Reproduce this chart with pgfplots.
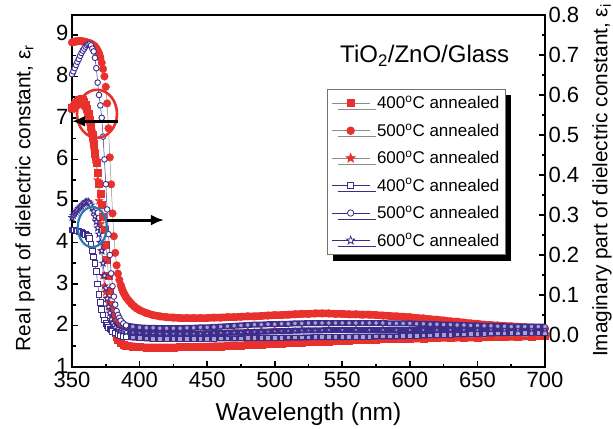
\documentclass[border=0pt]{standalone}
\usepackage{pgfplots}
\pgfplotsset{compat=1.18}
\usepackage{pgfplotstable}
\usepackage{fontspec}
\setmainfont{Liberation Sans}
\usetikzlibrary{arrows.meta,shadows,plotmarks}
\definecolor{cred}{RGB}{232,48,44}
\definecolor{cblue}{RGB}{60,44,140}
\definecolor{cell}{RGB}{40,120,180}
\definecolor{cgray}{RGB}{140,140,140}

\pgfdeclareplotmark{pstar}{%
  \pgfpathmoveto{\pgfpointpolar{90}{1.2\pgfplotmarksize}}%
  \pgfpathlineto{\pgfpointpolar{126}{0.5\pgfplotmarksize}}%
  \pgfpathlineto{\pgfpointpolar{162}{1.2\pgfplotmarksize}}%
  \pgfpathlineto{\pgfpointpolar{198}{0.5\pgfplotmarksize}}%
  \pgfpathlineto{\pgfpointpolar{234}{1.2\pgfplotmarksize}}%
  \pgfpathlineto{\pgfpointpolar{270}{0.5\pgfplotmarksize}}%
  \pgfpathlineto{\pgfpointpolar{306}{1.2\pgfplotmarksize}}%
  \pgfpathlineto{\pgfpointpolar{342}{0.5\pgfplotmarksize}}%
  \pgfpathlineto{\pgfpointpolar{18}{1.2\pgfplotmarksize}}%
  \pgfpathlineto{\pgfpointpolar{54}{0.5\pgfplotmarksize}}%
  \pgfpathclose
  \pgfusepathqfillstroke
}

% Real part (left axis) -- 500 C (circles)
\pgfplotstableread[row sep=\\]{x y\\
350 8.82\\351 8.83\\352 8.84\\353 8.84\\354 8.85\\355 8.85\\356 8.85\\357 8.85\\358 8.84\\359 8.84\\
360 8.83\\361 8.82\\362 8.81\\363 8.80\\364 8.79\\365 8.77\\366 8.75\\367 8.72\\368 8.68\\369 8.62\\
370 8.55\\371 8.45\\372 8.33\\373 8.18\\374 8.00\\375 7.75\\376 7.35\\377 6.75\\378 6.05\\379 5.40\\
380 4.70\\381 4.15\\382 3.75\\383 3.45\\384 3.25\\385 3.10\\386 2.98\\387 2.88\\388 2.80\\389 2.74\\
390 2.68\\392 2.60\\394 2.52\\396 2.46\\398 2.41\\400 2.37\\405 2.30\\410 2.25\\415 2.22\\420 2.20\\
425 2.19\\430 2.18\\435 2.18\\440 2.18\\445 2.18\\450 2.18\\455 2.19\\460 2.19\\465 2.20\\470 2.20\\
475 2.21\\480 2.22\\485 2.22\\490 2.23\\495 2.24\\500 2.25\\505 2.25\\510 2.26\\515 2.27\\520 2.28\\
525 2.28\\530 2.29\\535 2.29\\540 2.29\\545 2.28\\550 2.28\\555 2.27\\560 2.27\\565 2.26\\570 2.26\\
575 2.25\\580 2.24\\585 2.23\\590 2.22\\595 2.21\\600 2.20\\605 2.18\\610 2.17\\615 2.15\\620 2.14\\
625 2.12\\630 2.10\\635 2.09\\640 2.07\\645 2.05\\650 2.04\\655 2.02\\660 2.01\\665 2.00\\670 1.99\\
675 1.98\\680 1.97\\685 1.96\\690 1.95\\695 1.94\\700 1.93\\
}\redC

% Real part -- 400 C (squares)
\pgfplotstableread[row sep=\\]{x y\\
350 7.25\\351 7.28\\352 7.32\\353 7.36\\354 7.40\\355 7.43\\356 7.45\\357 7.46\\358 7.45\\359 7.40\\
360 7.32\\361 7.22\\362 7.10\\363 6.95\\364 6.78\\365 6.60\\366 6.38\\367 6.15\\368 5.92\\369 5.68\\
370 5.42\\371 5.17\\372 4.92\\373 4.62\\374 4.30\\375 3.95\\376 3.58\\377 3.20\\378 2.85\\379 2.50\\
380 2.20\\381 1.98\\382 1.82\\383 1.72\\384 1.65\\386 1.58\\388 1.54\\390 1.52\\395 1.50\\400 1.48\\
405 1.47\\410 1.47\\415 1.47\\420 1.47\\425 1.47\\430 1.48\\435 1.48\\440 1.48\\445 1.49\\450 1.49\\
455 1.50\\460 1.50\\465 1.51\\470 1.52\\475 1.52\\480 1.53\\485 1.54\\490 1.54\\495 1.55\\500 1.56\\
505 1.57\\510 1.58\\515 1.59\\520 1.59\\525 1.60\\530 1.61\\535 1.62\\540 1.62\\545 1.63\\550 1.63\\
555 1.64\\560 1.65\\565 1.65\\570 1.66\\575 1.66\\580 1.67\\585 1.67\\590 1.68\\595 1.68\\600 1.68\\
610 1.69\\620 1.70\\630 1.70\\640 1.71\\650 1.71\\660 1.72\\670 1.72\\680 1.73\\690 1.74\\700 1.75\\
}\redS

% Real part -- 600 C (stars)
\pgfplotstableread[row sep=\\]{x y\\
350 7.20\\351 7.23\\352 7.26\\353 7.29\\354 7.31\\355 7.33\\356 7.34\\357 7.35\\358 7.34\\359 7.30\\
360 7.25\\361 7.18\\362 7.08\\363 6.95\\364 6.80\\365 6.62\\366 6.42\\367 6.20\\368 5.90\\369 5.50\\
370 5.00\\371 4.45\\372 3.80\\373 3.20\\374 2.95\\375 2.80\\376 2.66\\377 2.55\\378 2.45\\379 2.35\\
380 2.25\\382 2.12\\384 2.03\\386 1.97\\388 1.93\\390 1.90\\395 1.87\\400 1.85\\410 1.84\\420 1.83\\
430 1.83\\440 1.83\\450 1.84\\460 1.85\\470 1.86\\480 1.87\\490 1.88\\500 1.89\\520 1.90\\540 1.90\\
560 1.90\\580 1.90\\600 1.89\\620 1.89\\640 1.88\\660 1.88\\680 1.88\\700 1.88\\
}\redT

% Imaginary part (right axis) -- 500 C (circles)
\pgfplotstableread[row sep=\\]{x y\\
350 0.652\\351 0.659\\352 0.667\\353 0.675\\354 0.683\\355 0.690\\356 0.698\\357 0.705\\358 0.711\\359 0.716\\
360 0.721\\361 0.725\\362 0.727\\363 0.727\\364 0.724\\365 0.716\\366 0.709\\367 0.693\\368 0.667\\369 0.631\\
370 0.600\\371 0.574\\372 0.543\\373 0.496\\374 0.439\\375 0.377\\376 0.314\\377 0.252\\378 0.200\\379 0.154\\
380 0.122\\381 0.096\\382 0.076\\383 0.060\\384 0.050\\385 0.043\\386 0.036\\388 0.029\\390 0.024\\395 0.021\\
400 0.019\\405 0.018\\410 0.018\\415 0.017\\420 0.017\\425 0.017\\430 0.017\\435 0.018\\440 0.018\\445 0.019\\
450 0.019\\455 0.020\\460 0.021\\465 0.022\\470 0.023\\475 0.024\\480 0.025\\485 0.026\\490 0.026\\495 0.027\\
500 0.027\\505 0.028\\510 0.028\\515 0.029\\520 0.029\\525 0.030\\530 0.030\\535 0.030\\540 0.030\\545 0.030\\
550 0.030\\555 0.030\\560 0.030\\565 0.030\\570 0.030\\575 0.030\\580 0.030\\585 0.029\\590 0.029\\595 0.029\\
600 0.029\\605 0.028\\610 0.028\\615 0.027\\620 0.027\\625 0.026\\630 0.026\\635 0.025\\640 0.025\\645 0.024\\
650 0.024\\655 0.023\\660 0.023\\665 0.022\\670 0.022\\675 0.021\\680 0.021\\685 0.021\\690 0.021\\695 0.021\\
700 0.021\\
}\bluC

% Imaginary part -- 400 C (squares)
\pgfplotstableread[row sep=\\]{x y\\
350 0.2625\\351 0.2625\\352 0.2625\\353 0.2615\\354 0.2604\\355 0.2593\\356 0.2573\\357 0.2562\\358 0.2541\\359 0.2531\\
360 0.2521\\361 0.2500\\362 0.2469\\363 0.2417\\364 0.2261\\365 0.2106\\366 0.1950\\367 0.1794\\368 0.1587\\369 0.1275\\
370 0.1016\\371 0.0808\\372 0.0632\\373 0.0497\\374 0.0373\\375 0.0290\\376 0.0238\\377 0.0196\\378 0.0155\\379 0.0124\\
380 0.0082\\382 0.0051\\384 0.0020\\386 -0.0011\\388 -0.0032\\390 -0.0042\\395 -0.0063\\400 -0.0074\\405 -0.0084\\410 -0.0094\\
415 -0.0094\\420 -0.0094\\425 -0.0094\\430 -0.0094\\435 -0.0094\\440 -0.0094\\445 -0.0094\\450 -0.0094\\455 -0.0089\\460 -0.0084\\
465 -0.0084\\470 -0.0084\\475 -0.0079\\480 -0.0074\\485 -0.0074\\490 -0.0074\\495 -0.0074\\500 -0.0074\\505 -0.0068\\510 -0.0063\\
515 -0.0063\\520 -0.0063\\525 -0.0058\\530 -0.0053\\535 -0.0053\\540 -0.0053\\545 -0.0053\\550 -0.0053\\555 -0.0047\\560 -0.0042\\
565 -0.0042\\570 -0.0042\\575 -0.0037\\580 -0.0032\\585 -0.0032\\590 -0.0032\\595 -0.0027\\600 -0.0022\\605 -0.0016\\610 -0.0011\\
615 -0.0006\\620 -0.0001\\625 0.0004\\630 0.0009\\635 0.0015\\640 0.0020\\645 0.0025\\650 0.0030\\655 0.0035\\660 0.0041\\
665 0.0046\\670 0.0051\\675 0.0051\\680 0.0051\\685 0.0056\\690 0.0061\\695 0.0061\\700 0.0061\\
}\bluS

% Imaginary part -- 600 C (stars)
\pgfplotstableread[row sep=\\]{x y\\
350 0.2936\\351 0.2988\\352 0.3040\\353 0.3081\\354 0.3123\\355 0.3164\\356 0.3195\\357 0.3226\\358 0.3268\\359 0.3299\\
360 0.3320\\361 0.3330\\362 0.3330\\363 0.3299\\364 0.3247\\365 0.3175\\366 0.3091\\367 0.2967\\368 0.2832\\369 0.2676\\
370 0.2521\\371 0.2313\\372 0.2106\\373 0.1794\\374 0.1483\\375 0.1172\\376 0.0912\\377 0.0705\\378 0.0549\\379 0.0393\\
380 0.0290\\381 0.0238\\382 0.0186\\384 0.0144\\386 0.0113\\388 0.0092\\390 0.0072\\395 0.0061\\400 0.0051\\405 0.0046\\
410 0.0041\\415 0.0035\\420 0.0030\\425 0.0030\\430 0.0030\\435 0.0030\\440 0.0030\\445 0.0035\\450 0.0041\\455 0.0046\\
460 0.0051\\465 0.0056\\470 0.0061\\475 0.0066\\480 0.0072\\485 0.0077\\490 0.0082\\495 0.0087\\500 0.0092\\505 0.0098\\
510 0.0103\\515 0.0108\\520 0.0113\\525 0.0113\\530 0.0113\\535 0.0118\\540 0.0124\\550 0.0124\\560 0.0124\\570 0.0124\\
580 0.0124\\590 0.0124\\600 0.0124\\610 0.0124\\620 0.0124\\630 0.0124\\640 0.0124\\650 0.0124\\660 0.0134\\670 0.0134\\
680 0.0134\\690 0.0134\\700 0.0134\\
}\bluT

\pgfplotsset{
  common/.style={
    at={(0,0)}, anchor=south west,
    scale only axis, width=473bp, height=352bp,
    xmin=350, xmax=700,
    tick align=inside,
    major tick length=6bp, minor tick length=3.5bp,
    every tick/.style={black, line width=1.6bp},
    axis line style={line width=2.2bp, line cap=rect},
    tick label style={font=\fontsize{22bp}{24bp}\selectfont},
    /pgf/number format/assume math mode=true,
    ylabel style={font=\fontsize{20.8bp}{24bp}\selectfont},
    xlabel style={font=\fontsize{24.5bp}{27bp}\selectfont},
  },
  bluehi/.style={forget plot, cblue, line width=0.5bp, mark size=2.8bp, restrict x to domain=350:392,
     mark options={draw=cblue, fill=white, line width=0.9bp}},
  bluelo/.style={forget plot, draw=none, mark size=2.3bp, restrict x to domain=392:700,
     mark options={draw=cblue, fill=cblue!45!white, line width=0.7bp}},
}

\begin{document}
\begin{tikzpicture}
\path[use as bounding box] (-72bp,-62bp) rectangle (541bp,367bp);

\begin{axis}[common,
  ymin=1, ymax=9.48,
  axis x line*=bottom, axis y line*=left,
  xtick={350,400,...,700}, ytick={1,2,...,9},
  minor x tick num=1, minor y tick num=1,
  xticklabel style={yshift=-1.5bp},
  yticklabel style={yshift=1.5bp},
  xlabel={Wavelength (nm)},
  ylabel={Real part of dielectric constant, ε\textsubscript{r}},
  xlabel style={at={(axis description cs:0.5,0)}, anchor=base, yshift=-53bp},
  ylabel style={at={(axis description cs:-0.0994,0.48)}, anchor=center},
]
% thick bands
\addplot[cred, line width=7.5bp, line cap=round, line join=round, restrict x to domain=350:366] table {\redT};
\addplot[cred, line width=7.5bp, line cap=round, line join=round, restrict x to domain=350:368] table {\redS};
\addplot[cred, line width=7.5bp, line cap=round, line join=round, restrict x to domain=383:700] table {\redS};
\addplot[cred, line width=7.5bp, line cap=round, line join=round, restrict x to domain=350:371] table {\redC};
\addplot[cred, line width=7.5bp, line cap=round, line join=round, restrict x to domain=386:700] table {\redC};
% markers
\addplot[cgray, line width=0.5bp, mark=pstar, mark size=3.5bp, mark options={draw=cred, fill=cred, line width=0.4bp}] table {\redT};
\addplot[cgray, line width=0.5bp, mark=square*, mark size=3.5bp, mark options={draw=cred, fill=cred, line width=0.4bp}] table {\redS};
\addplot[cgray, line width=0.5bp, mark=*, mark size=3.8bp, mark options={draw=cred, fill=cred, line width=0.4bp}] table {\redC};

\node[anchor=base, font=\fontsize{24bp}{26bp}\selectfont] at (axis cs:611,8.33) {TiO\textsubscript{2}/ZnO/Glass};

\coordinate (rc) at (axis cs:368.5,7.1);
\coordinate (ra1) at (axis cs:384,6.92);
\coordinate (ra2) at (axis cs:350,6.92);
\coordinate (bcc) at (axis cs:365,4.37);
\coordinate (ba1) at (axis cs:376,4.54);
\coordinate (ba2) at (axis cs:418,4.54);
\end{axis}

\begin{axis}[common,
  ymin=-0.08, ymax=0.8,
  axis x line*=top, axis y line*=right,
  xtick=\empty,
  ytick={0,0.1,0.2,0.3,0.4,0.5,0.6,0.7,0.8},
  minor y tick num=1,
  yticklabel style={/pgf/number format/.cd, fixed, fixed zerofill, precision=1},
  ylabel={Imaginary part of dielectric constant, ε\textsubscript{i}},
  ylabel style={at={(axis description cs:1.1205,0.53)}, anchor=center},
  legend style={at={(0.539,0.79)}, anchor=north west,
    font=\fontsize{17bp}{19bp}\selectfont, draw=black!55, line width=0.6bp, fill=white,
    row sep=9.3bp, inner xsep=4bp, inner ysep=5bp,
    /tikz/every odd column/.append style={column sep=5bp},
    drop shadow={shadow xshift=6bp, shadow yshift=-6bp, fill=black, opacity=1}},
  legend cell align=left,
  legend image code/.code={\draw[mark repeat=2,mark phase=2] plot coordinates {(0bp,0bp) (19bp,0bp) (38bp,0bp)};},
]
\addlegendimage{cgray, line width=0.8bp, mark=square*, mark size=3.5bp, mark options={draw=cred, fill=cred}}
\addlegendentry{400\textsuperscript{o}C annealed}
\addlegendimage{cgray, line width=0.8bp, mark=*, mark size=3.8bp, mark options={draw=cred, fill=cred}}
\addlegendentry{500\textsuperscript{o}C annealed}
\addlegendimage{cgray, line width=0.8bp, mark=pstar, mark size=3.8bp, mark options={draw=cred, fill=cred}}
\addlegendentry{600\textsuperscript{o}C annealed}
\addlegendimage{cblue, line width=0.8bp, mark=square*, mark size=3bp, mark options={draw=cblue, fill=white}}
\addlegendentry{400\textsuperscript{o}C annealed}
\addlegendimage{cblue, line width=0.8bp, mark=*, mark size=3.2bp, mark options={draw=cblue, fill=white}}
\addlegendentry{500\textsuperscript{o}C annealed}
\addlegendimage{cblue, line width=0.8bp, mark=pstar, mark size=3.5bp, mark options={draw=cblue, fill=white}}
\addlegendentry{600\textsuperscript{o}C annealed}

% thick bands
\addplot[forget plot, cblue, line width=6bp, line cap=round, line join=round, restrict x to domain=376:700] table {\bluS};
\addplot[forget plot, cblue, line width=6bp, line cap=round, line join=round, restrict x to domain=380:700] table {\bluT};
\addplot[forget plot, cblue, line width=6bp, line cap=round, line join=round, restrict x to domain=386:700] table {\bluC};
% markers
\addplot[bluehi, mark=square*] table {\bluS};
\addplot[bluehi, mark=pstar] table {\bluT};
\addplot[bluehi, mark=*] table {\bluC};
\addplot[bluelo, mark=square*] table {\bluS};
\addplot[bluelo, mark=pstar] table {\bluT};
\addplot[bluelo, mark=*] table {\bluC};
\end{axis}

\draw[cred, line width=2.6bp] (rc) ellipse [x radius=20bp, y radius=24bp];
\draw[black, line width=3bp, -{Latex[length=13bp,width=11bp]}] (ra1) -- (ra2);
\draw[cell, line width=2.2bp] (bcc) ellipse [x radius=14.5bp, y radius=20bp];
\draw[black, line width=3bp, -{Latex[length=13bp,width=11bp]}] (ba1) -- (ba2);
\end{tikzpicture}
\end{document}
